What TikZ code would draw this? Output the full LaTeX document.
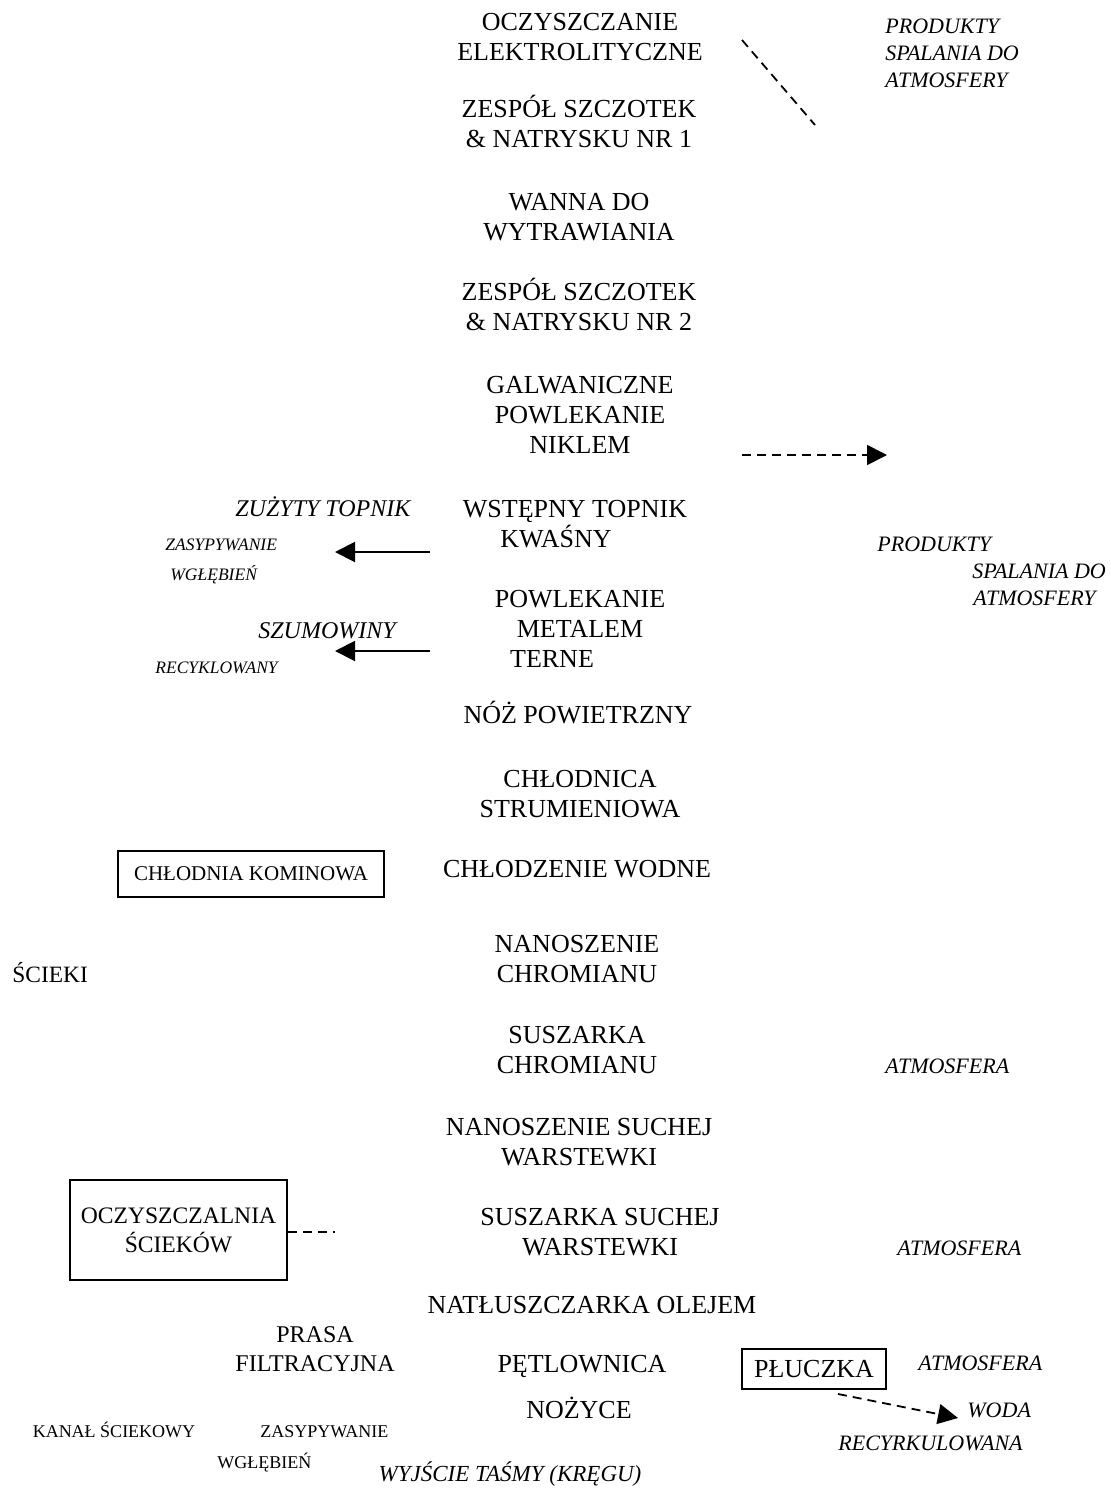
\documentclass[tikz,border=0pt]{standalone}
\usepackage{fontspec}
\setmainfont{Liberation Serif}
\usetikzlibrary{arrows.meta,positioning}

\begin{document}
\begin{tikzpicture}[
        x=0.5pt, y=-0.5pt,
        >={Triangle[length=10pt,width=10pt]},
        stage/.style={align=center, anchor=base, inner sep=0pt, font=\fontsize{13}{15}\selectfont},
        note/.style={align=left, anchor=base west, inner sep=0pt, font=\itshape\fontsize{11}{13.5}\selectfont},
        sidenote/.style={align=left, anchor=base west, inner sep=0pt, font=\itshape\fontsize{8.75}{15}\selectfont},
        waste/.style={anchor=base west, inner sep=0pt, font=\itshape\fontsize{12}{14}\selectfont},
        plain/.style={align=center, anchor=base, inner sep=0pt, font=\fontsize{12}{14.5}\selectfont},
        unitbox/.style={draw, line width=0.8pt, align=center, inner sep=0pt},
        arr/.style={->, line width=1pt},
        dashline/.style={line width=0.9pt, dash pattern=on 4.5pt off 3pt}
        ]
        \useasboundingbox (0,0) rectangle (1110,1488);

        % line of stages (base = last line)
        \node[stage] (ElectroClean) at (580,60) {OCZYSZCZANIE\\ELEKTROLITYCZNE};
        \node[stage] (BrushOne) at (579,147) {ZESPÓŁ SZCZOTEK\\\& NATRYSKU NR 1};
        \node[stage] (EtchTank) at (579,240) {WANNA DO\\WYTRAWIANIA};
        \node[stage] (BrushTwo) at (579,330) {ZESPÓŁ SZCZOTEK\\\& NATRYSKU NR 2};
        \node[stage] (NickelPlate) at (580,453) {GALWANICZNE\\POWLEKANIE\\NIKLEM};
        \node[stage] (PreFlux) at (575,547) {WSTĘPNY TOPNIK\\KWAŚNY\hspace*{19pt}};
        \node[stage] (TerneCoat) at (580,667) {POWLEKANIE\\METALEM\\TERNE\hspace*{28pt}};
        \node[stage] (AirKnife) at (578,723) {NÓŻ POWIETRZNY};
        \node[stage] (JetCooler) at (580,817) {CHŁODNICA\\STRUMIENIOWA};
        \node[stage] (WaterCool) at (577,877) {CHŁODZENIE WODNE};
        \node[stage] (ChromateCoat) at (577,982) {NANOSZENIE\\CHROMIANU};
        \node[stage] (ChromateDry) at (577,1073) {SUSZARKA\\CHROMIANU};
        \node[stage] (FilmCoat) at (579,1165) {NANOSZENIE SUCHEJ\\WARSTEWKI};
        \node[stage] (FilmDry) at (600,1255) {SUSZARKA SUCHEJ\\WARSTEWKI};
        \node[stage] (Oiler) at (592,1313) {NATŁUSZCZARKA OLEJEM};
        \node[stage] (Looper) at (582,1372) {PĘTLOWNICA};
        \node[stage] (Shear) at (579,1418) {NOŻYCE};
        \node[stage, font=\itshape\fontsize{11.5}{14}\selectfont] (CoilExit) at (510,1481) {WYJŚCIE TAŚMY (KRĘGU)};

        % right side
        \node[note] (FumesTop) at (885,87) {PRODUKTY\\SPALANIA DO\\ATMOSFERY};
        \node[note] (FumesMid) at (877,605) {PRODUKTY\\\hspace*{47.5pt}SPALANIA DO\\\hspace*{48pt}ATMOSFERY};
        \node[note] (AirOne) at (885,1073) {ATMOSFERA};
        \node[note] (AirTwo) at (897,1255) {ATMOSFERA};
        \node[unitbox, minimum width=72pt, minimum height=20pt, font=\fontsize{13}{15}\selectfont] (Scrubber) at (814,1369) {PŁUCZKA};
        \node[note] (AirThree) at (918,1370) {ATMOSFERA};
        \node[note, font=\itshape\fontsize{11}{16.5}\selectfont] (RecycWater) at (838,1450) {\hspace*{64.5pt}WODA\\RECYRKULOWANA};

        % left side
        \node[waste] (SpentFlux) at (235,516) {ZUŻYTY TOPNIK};
        \node[sidenote] (FillOne) at (165,580) {ZASYPYWANIE\\\hspace*{2.5pt}WGŁĘBIEŃ};
        \node[waste] (Dross) at (258,638) {SZUMOWINY};
        \node[sidenote] (Recycled) at (155,673) {RECYKLOWANY};
        \node[unitbox, minimum width=133pt, minimum height=23pt, font=\fontsize{10.5}{12}\selectfont] (CoolTower) at (251,874) {CHŁODNIA KOMINOWA};
        \node[plain, anchor=base west, font=\fontsize{11.7}{14}\selectfont] (Sewage) at (12,982) {ŚCIEKI};
        \node[unitbox, minimum width=108.5pt, minimum height=50pt, font=\fontsize{11.8}{14.5}\selectfont] (Treatment) at (178.5,1230) {OCZYSZCZALNIA\\ŚCIEKÓW};
        \node[plain] (FilterPress) at (315,1371) {PRASA\\FILTRACYJNA};
        \node[plain, font=\fontsize{9}{11}\selectfont] (SewerLine) at (114,1437) {KANAŁ ŚCIEKOWY};
        \node[plain, anchor=base west, align=left, font=\fontsize{9}{15.5}\selectfont] (FillTwo) at (217,1468) {\hspace*{21.5pt}ZASYPYWANIE\\WGŁĘBIEŃ};

        \coordinate (fumesA) at (742,40);
        \coordinate (fumesB) at (815,125);
        \coordinate (nickelOut) at (742,455);
        \coordinate (nickelIn) at (887,455);
        \coordinate (fluxOut) at (430,552);
        \coordinate (fluxIn) at (335,552);
        \coordinate (drossOut) at (430,651);
        \coordinate (drossIn) at (335,651);
        \coordinate (treatOut) at (335,1232);
        \coordinate (scrubOut) at (838,1394);
        \coordinate (scrubIn) at (958,1418);

        % Edges
        \draw[dashline] (fumesA) -- (fumesB);
        \draw[dashline, ->] (nickelOut) -- (nickelIn);
        \draw[arr] (fluxOut) -- (fluxIn);
        \draw[arr] (drossOut) -- (drossIn);
        \draw[dashline] (Treatment.east |- treatOut) -- (treatOut);
        \draw[dashline, ->] (scrubOut) -- (scrubIn);

      \end{tikzpicture}
\end{document}
